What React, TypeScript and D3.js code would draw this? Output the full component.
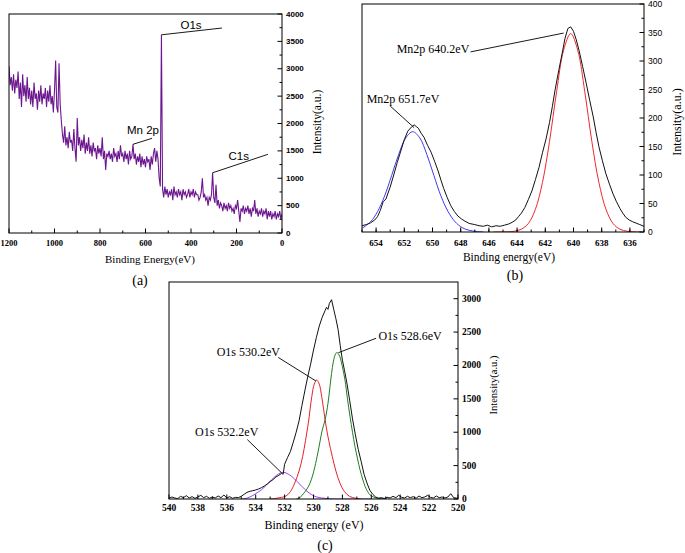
import React from "react";
import * as d3 from "d3";

const W = 685;
const H = 553;
const SERIF = "'Liberation Serif', 'Times New Roman', serif";
const SANS = "'Liberation Sans', Arial, sans-serif";

// ---- (a) survey spectrum, 1200 -> 0 eV every 5 eV
const surveyStart = 1200;
const surveyStep = 5;
const surveyCounts = [
  3050, 2700, 2850, 2600, 2900, 2550, 2800, 2650, 2950, 2450,
  2750, 2300, 2900, 2500, 2700, 2400, 2850, 2450, 2650, 2350,
  2600, 2300, 2750, 2450, 2550, 2250, 2600, 2400, 2700, 2350,
  2550, 2450, 2650, 2300, 2600, 2400, 2700, 2350, 2500, 2200,
  2600, 3150, 2300, 2200, 3100, 2350, 2050, 1800, 1650, 1950,
  1600, 1750, 1550, 1850, 1650, 1700, 1500, 1900, 1550, 1300,
  2100, 1600, 1750, 1500, 1700, 1550, 1800, 1450, 1650, 1500,
  1750, 1450, 1600, 1400, 1650, 1500, 1550, 1350, 1600, 1450,
  1550, 1400, 1750, 1350, 1500, 1150, 1450, 1400, 1500, 1350,
  1450, 1300, 1550, 1400, 1450, 1300, 1500, 1350, 1600, 1400,
  1450, 1300, 1500, 1350, 1450, 1250, 1500, 1350, 1400, 1620,
  1350, 1450, 1250, 1400, 1300, 1450, 1200, 1400, 1250, 1350,
  1200, 1400, 1300, 1350, 1150, 1400, 1250, 1450, 1550, 1300,
  1500, 1350, 1000, 850, 3620, 800, 650, 850, 700, 800,
  650, 750, 700, 800, 600, 850, 700, 750, 650, 800,
  700, 750, 600, 800, 700, 750, 650, 700, 800, 650,
  750, 700, 800, 650, 750, 700, 700, 600, 650, 750,
  1000, 650, 700, 600, 650, 500, 650, 600, 700, 1100,
  650, 550, 880, 500, 600, 450, 550, 500, 400, 550,
  450, 500, 400, 550, 450, 500, 400, 450, 350, 500,
  450, 600, 400, 200, 450, 400, 500, 350, 450, 400,
  500, 350, 450, 300, 450, 400, 600, 350, 450, 300,
  400, 350, 450, 300, 400, 350, 450, 250, 400, 300,
  400, 250, 350, 300, 400, 250, 350, 300, 400, 250,
  350,
];
const surveyXTicks = [1200, 1000, 800, 600, 400, 200, 0];
const surveyYTicks = [0, 500, 1000, 1500, 2000, 2500, 3000, 3500, 4000];
const surveyNotes = [
  { text: "O1s", pos: [400, 3726], from: [530, 3620], to: [264, 3744] },
  { text: "Mn 2p", pos: [611, 1817], from: [655, 1620], to: [571, 1730] },
  { text: "C1s", pos: [190, 1333], from: [305, 1100], to: [62, 1437] },
];

// ---- (b) Mn 2p region [eV, intensity]
const mnEnvelope: [number, number][] = [
  [655, 11], [654.7, 13], [654.4, 16], [654.1, 21], [653.9, 27], [653.7, 38],
  [653.5, 53], [653.3, 58], [653.0, 79], [652.75, 100], [652.5, 122], [652.25, 142],
  [652.0, 162], [651.75, 177], [651.5, 184], [651.3, 188], [651.15, 185], [651.0, 182],
  [650.8, 173], [650.6, 166], [650.35, 152], [650.1, 140], [649.85, 124], [649.6, 107],
  [649.4, 91], [649.2, 76], [648.95, 60], [648.7, 46], [648.45, 36], [648.2, 28],
  [647.95, 23], [647.7, 19], [647.4, 15], [647.0, 13], [646.7, 11], [646.4, 10],
  [646.1, 12], [645.8, 9], [645.5, 11], [645.2, 10], [644.9, 12], [644.6, 14],
  [644.35, 17], [644.1, 21], [643.9, 27], [643.7, 33], [643.45, 43], [643.2, 57],
  [642.95, 72], [642.7, 92], [642.45, 113], [642.2, 139], [641.95, 163], [641.7, 192],
  [641.5, 220], [641.3, 250], [641.05, 283], [640.8, 314], [640.6, 340], [640.4, 357],
  [640.2, 360], [640.0, 352], [639.8, 337], [639.6, 318], [639.35, 290], [639.1, 261],
  [638.85, 231], [638.6, 202], [638.4, 175], [638.2, 150], [637.95, 125], [637.7, 102],
  [637.45, 84], [637.2, 67], [636.95, 53], [636.7, 41], [636.5, 33], [636.3, 26],
  [636.05, 21], [635.8, 18], [635.5, 15], [635.3, 13], [635.0, 10],
];
const mnFit651: [number, number][] = [
  [655, 6.4], [654.4, 17.7], [653.9, 35.7], [653.4, 63], [652.9, 99], [652.4, 136],
  [651.9, 165], [651.4, 176], [650.9, 165], [650.4, 136], [649.9, 99], [649.4, 63],
  [648.9, 36], [648.4, 18], [647.9, 7.7], [647.4, 3], [646.9, 1], [646.4, 0.3],
];
const mnFit640: [number, number][] = [
  [645.7, 0], [645.2, 0.1], [644.7, 0.3], [644.2, 1.3], [643.7, 4.9], [643.2, 15],
  [642.7, 40], [642.2, 87], [641.7, 159], [641.2, 246], [640.7, 319], [640.2, 348],
  [639.7, 319], [639.2, 246], [638.7, 159], [638.2, 87], [637.7, 40], [637.2, 15],
  [636.7, 4.9], [636.2, 1.3], [635.7, 0.3], [635.2, 0.1],
];
const mnXTicks = [654, 652, 650, 648, 646, 644, 642, 640, 638, 636];
const mnYTicks = [0, 50, 100, 150, 200, 250, 300, 350, 400];
const mnNotes = [
  { text: "Mn2p 640.2eV", pos: [652.54, 314], from: [647.3, 316], to: [640.7, 349] },
  { text: "Mn2p 651.7eV", pos: [654.67, 226], from: [653.0, 221], to: [651.3, 183] },
];

// ---- (c) O 1s region [eV, intensity]
const oEnvelope: [number, number][] = [
  [540, 10], [539.8, 30], [539.6, 15], [539.4, 5], [539.2, 40], [539.0, 20],
  [538.8, 50], [538.6, 15], [538.4, 35], [538.2, 10], [538.0, 30], [537.8, 55],
  [537.6, 20], [537.4, 40], [537.2, 10], [537.0, 30], [536.8, 15], [536.6, 45],
  [536.4, 20], [536.2, 60], [536.0, 15], [535.8, 35], [535.6, 10], [535.4, 25],
  [535.2, 20], [535.0, 40], [534.8, 70], [534.6, 100], [534.4, 115], [534.2, 125],
  [534.0, 135], [533.8, 150], [533.6, 170], [533.4, 195], [533.2, 225], [533.0, 260],
  [532.8, 290], [532.6, 330], [532.4, 355], [532.2, 385], [532.1, 370], [532.0, 520],
  [531.8, 620], [531.6, 710], [531.4, 850], [531.2, 1000], [531.0, 1170], [530.8, 1400],
  [530.6, 1620], [530.4, 1830], [530.2, 2020], [530.0, 2230], [529.8, 2420], [529.6, 2590],
  [529.4, 2720], [529.2, 2820], [529.1, 2870], [529.0, 2840], [528.9, 2930], [528.75, 2985],
  [528.6, 2840], [528.45, 2700], [528.3, 2540], [528.15, 2300], [528.0, 2080], [527.85, 1920],
  [527.7, 1750], [527.5, 1480], [527.3, 1200], [527.1, 960], [526.9, 740], [526.7, 560],
  [526.5, 370], [526.3, 240], [526.1, 130], [525.9, 70], [525.7, 30], [525.5, 12],
  [525.3, 20], [525.1, 8], [524.9, 25], [524.7, 15], [524.5, 40], [524.3, 20],
  [524.1, 55], [523.9, 25], [523.7, 15], [523.5, 40], [523.3, 20], [523.1, 35],
  [522.9, 10], [522.7, 45], [522.5, 20], [522.3, 30], [522.1, 55], [521.9, 25],
  [521.7, 15], [521.5, 45], [521.3, 20], [521.1, 30], [520.9, 15], [520.7, 30],
  [520.5, 80], [520.3, 20], [520.0, 10],
];
const oFit532: [number, number][] = [
  [535.0, 0], [534.74, 5], [534.4, 30], [534.0, 80], [533.6, 139], [533.25, 210],
  [532.9, 288], [532.55, 355], [532.3, 390], [532.09, 400], [531.85, 385], [531.5, 337],
  [531.15, 265], [530.8, 188], [530.45, 115], [530.12, 64], [529.8, 32], [529.43, 15],
  [529.0, 5], [528.5, 0], [526.0, 0],
];
const oFit530: [number, number][] = [
  [533.0, 0], [532.6, 10], [532.2, 25], [531.9, 45], [531.6, 110], [531.3, 238],
  [531.0, 420], [530.75, 636], [530.55, 880], [530.36, 1134], [530.12, 1531], [529.95, 1720],
  [529.78, 1781], [529.6, 1720], [529.43, 1531], [529.16, 1134], [528.95, 880], [528.7, 636],
  [528.45, 420], [528.17, 238], [527.85, 110], [527.5, 39], [527.1, 12], [526.7, 0],
];
const oFit528: [number, number][] = [
  [531.2, 0], [530.9, 30], [530.7, 79], [530.45, 150], [530.24, 238], [530.05, 360],
  [529.9, 487], [529.7, 690], [529.55, 860], [529.4, 1030], [529.2, 1184], [529.0, 1430],
  [528.86, 1681], [528.75, 1880], [528.63, 2054], [528.5, 2160], [528.4, 2194], [528.28, 2175],
  [528.17, 2128], [528.0, 1980], [527.82, 1781], [527.65, 1500], [527.47, 1233], [527.3, 1000],
  [527.13, 785], [526.95, 600], [526.78, 437], [526.6, 300], [526.43, 188], [526.25, 110],
  [526.1, 64], [525.85, 30], [525.63, 15], [525.3, 5], [525.0, 0],
];
const oXTicks = [540, 538, 536, 534, 532, 530, 528, 526, 524, 522, 520];
const oYTicks = [0, 500, 1000, 1500, 2000, 2500, 3000];
const oNotes = [
  { text: "O1s 532.2eV", pos: [538.2, 950], from: [534.58, 890], to: [532.2, 390] },
  { text: "O1s 530.2eV", pos: [536.7, 2142], from: [532.44, 2120], to: [529.83, 1767] },
  { text: "O1s 528.6eV", pos: [525.51, 2381], from: [525.67, 2407], to: [528.28, 2191] },
];

type Scale = d3.ScaleLinear<number, number>;

function Frame(props: {
  x: Scale; y: Scale; xTicks: number[]; xMinor: number[]; yTicks: number[]; yMinor: number[];
  xFont: any; yFont: any; xLabelDy: number;
}) {
  const { x, y } = props;
  const [l, r] = x.range();
  const [b, t] = y.range();
  return (
    <g>
      <rect x={l} y={t} width={r - l} height={b - t} fill="none" stroke="#000" strokeWidth={1} />
      {props.xMinor.map((v) => (
        <line key={"xm" + v} x1={x(v)} x2={x(v)} y1={b} y2={b - 2.5} stroke="#000" />
      ))}
      {props.xTicks.map((v) => (
        <g key={"x" + v}>
          <line x1={x(v)} x2={x(v)} y1={b} y2={b - 4.5} stroke="#000" />
          <text x={x(v)} y={b + props.xLabelDy} textAnchor="middle" {...props.xFont}>{v}</text>
        </g>
      ))}
      {props.yMinor.map((v) => (
        <line key={"ym" + v} x1={r} x2={r - 2.5} y1={y(v)} y2={y(v)} stroke="#000" />
      ))}
      {props.yTicks.map((v) => (
        <g key={"y" + v}>
          <line x1={r} x2={r - 4.5} y1={y(v)} y2={y(v)} stroke="#000" />
          <text x={r + 4} y={y(v)} dominantBaseline="central" {...props.yFont}>{v}</text>
        </g>
      ))}
    </g>
  );
}

function Notes(props: { x: Scale; y: Scale; notes: any[]; font: any; anchor: string }) {
  const { x, y } = props;
  return (
    <g>
      {props.notes.map((n) => (
        <g key={n.text}>
          <line x1={x(n.from[0])} y1={y(n.from[1])} x2={x(n.to[0])} y2={y(n.to[1])} stroke="#000" strokeWidth={0.9} />
          <text x={x(n.pos[0])} y={y(n.pos[1])} textAnchor={props.anchor} {...props.font}>{n.text}</text>
        </g>
      ))}
    </g>
  );
}

export default function App() {
  // panel a
  const xa = d3.scaleLinear().domain([1200, 0]).range([9, 282]);
  const ya = d3.scaleLinear().domain([0, 4000]).range([233, 14]);
  const surveyPts: [number, number][] = surveyCounts.map((c, i) => [surveyStart - i * surveyStep, c]);
  const lineA = d3.line<[number, number]>().x((d) => xa(d[0])).y((d) => ya(d[1]));

  // panel b
  const xb = d3.scaleLinear().domain([655, 635]).range([362, 644]);
  const yb = d3.scaleLinear().domain([0, 400]).range([232, 4]);
  const lineB = d3.line<[number, number]>().x((d) => xb(d[0])).y((d) => yb(d[1]));
  const fitB = d3.line<[number, number]>().x((d) => xb(d[0])).y((d) => yb(d[1])).curve(d3.curveCatmullRom);

  // panel c
  const xc = d3.scaleLinear().domain([540, 520]).range([169, 458]);
  const yc = d3.scaleLinear().domain([0, 3250]).range([499, 282]);
  const lineC = d3.line<[number, number]>().x((d) => xc(d[0])).y((d) => yc(d[1]));
  const fitC = d3.line<[number, number]>().x((d) => xc(d[0])).y((d) => yc(d[1])).curve(d3.curveCatmullRom);

  const boldSerif = (s: number) => ({ fontFamily: SERIF, fontWeight: "bold", fontSize: s });
  const serif = (s: number) => ({ fontFamily: SERIF, fontSize: s });

  return (
    <svg width={W} height={H} style={{ position: "absolute", left: 0, top: 0, background: "#fff" }}>
      <defs>
        <clipPath id="ca"><rect x={9} y={14} width={273} height={219} /></clipPath>
        <clipPath id="cb"><rect x={362} y={4} width={282} height={228} /></clipPath>
        <clipPath id="cc"><rect x={169} y={282} width={289} height={217} /></clipPath>
      </defs>

      {/* (a) survey */}
      <g clipPath="url(#ca)">
        <path d={lineA(surveyPts) || ""} fill="none" stroke="#6c168f" strokeWidth={1.1} />
      </g>
      <Frame x={xa} y={ya} xTicks={surveyXTicks} xMinor={d3.range(1100, 0, -200)}
        yTicks={surveyYTicks} yMinor={d3.range(250, 4000, 500)}
        xFont={boldSerif(8.5)} yFont={{ fontFamily: SANS, fontWeight: "bold", fontSize: 8 }} xLabelDy={13} />
      <Notes x={xa} y={ya} notes={surveyNotes} anchor="middle" font={{ fontFamily: SANS, fontSize: 11.5 }} />
      <text x={150} y={263} textAnchor="middle" {...serif(11)}>Binding Energy(eV)</text>
      <text transform="translate(317,122) rotate(-90)" textAnchor="middle" dominantBaseline="central" {...serif(11.5)}>Intensity(a.u.)</text>
      <text x={140} y={285} textAnchor="middle" {...serif(14)}>(a)</text>

      {/* (b) Mn 2p */}
      <g clipPath="url(#cb)">
        <path d={fitB(mnFit651) || ""} fill="none" stroke="#3b3bf0" strokeWidth={1} />
        <path d={fitB(mnFit640) || ""} fill="none" stroke="#f0282d" strokeWidth={1} />
        <path d={lineB(mnEnvelope) || ""} fill="none" stroke="#111" strokeWidth={1} />
      </g>
      <Frame x={xb} y={yb} xTicks={mnXTicks} xMinor={d3.range(655, 634, -1)}
        yTicks={mnYTicks} yMinor={d3.range(25, 400, 50)}
        xFont={boldSerif(9)} yFont={{ fontFamily: SANS, fontSize: 8.5 }} xLabelDy={14} />
      <Notes x={xb} y={yb} notes={mnNotes} anchor="start" font={serif(12)} />
      <text x={509} y={261} textAnchor="middle" {...serif(11.5)}>Binding energy(eV)</text>
      <text transform="translate(677,122) rotate(-90)" textAnchor="middle" dominantBaseline="central" {...serif(12)}>Intensity(a.u.)</text>
      <text x={515} y={280} textAnchor="middle" {...serif(14)}>(b)</text>

      {/* (c) O 1s */}
      <g clipPath="url(#cc)">
        <path d={fitC(oFit532) || ""} fill="none" stroke="#9440f5" strokeWidth={1} />
        <path d={fitC(oFit530) || ""} fill="none" stroke="#e8202a" strokeWidth={1} />
        <path d={fitC(oFit528) || ""} fill="none" stroke="#1f7d22" strokeWidth={1} />
        <path d={lineC(oEnvelope) || ""} fill="none" stroke="#111" strokeWidth={1} />
      </g>
      <Frame x={xc} y={yc} xTicks={oXTicks} xMinor={d3.range(539, 520, -2)}
        yTicks={oYTicks} yMinor={d3.range(250, 3250, 500)}
        xFont={boldSerif(9.5)} yFont={boldSerif(9.5)} xLabelDy={12} />
      <Notes x={xc} y={yc} notes={oNotes} anchor="start" font={serif(12)} />
      <text x={314} y={529} textAnchor="middle" {...serif(12)}>Binding energy (eV)</text>
      <text transform="translate(493,385) rotate(-90)" textAnchor="middle" dominantBaseline="central" {...serif(10.5)}>Intensity(a.u.)</text>
      <text x={325} y={550} textAnchor="middle" {...serif(14)}>(c)</text>
    </svg>
  );
}
